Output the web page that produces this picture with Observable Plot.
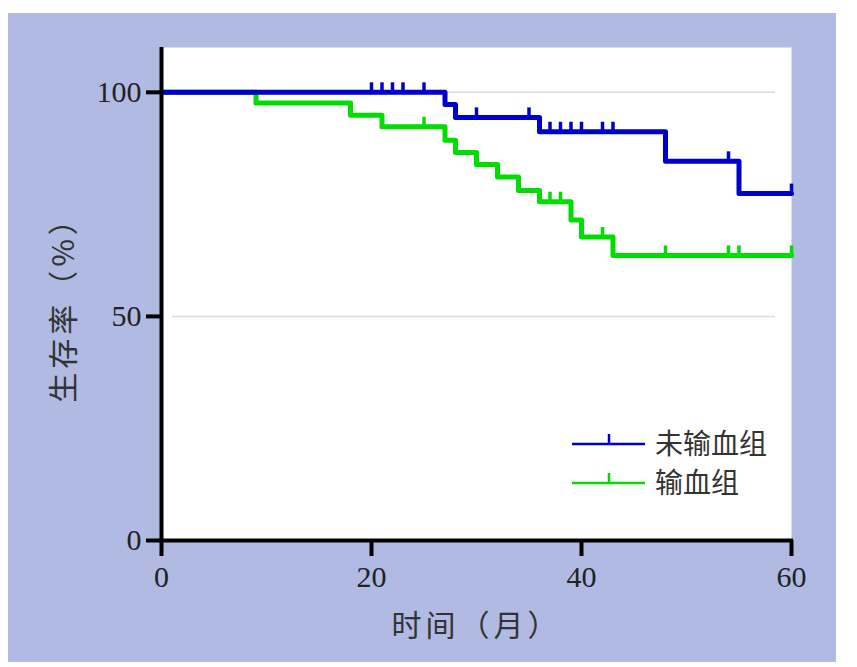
<!DOCTYPE html>
<html><head><meta charset="utf-8">
<script src="https://cdn.jsdelivr.net/npm/d3@7"></script>
<script src="https://cdn.jsdelivr.net/npm/@observablehq/plot@0.6"></script>
<style>
html,body{margin:0;padding:0;background:#fff;}
#wrap{position:absolute;left:8px;top:13px;width:828px;height:649px;background:#b1bae3;}
#wrap svg.overlay{position:absolute;left:0;top:0;pointer-events:none;}
svg text{text-spacing-trim: space-all;}
</style></head><body>
<div id="wrap"></div>
<script>
// ---- data ----
const groups = ["未输血组", "输血组"];
const groupColors = ["#0000cc", "#00dd00"];
const xTicks = [0, 20, 40, 60];
const yTicks = [0, 50, 100];
const gridValues = [50, 100];
const xTitle = "时间（月）";
const yTitle = "生存率（%）";

// 未输血组 (blue) survival steps
const blueTimes = [0, 27, 28, 36, 48, 55, 60];
const blueSurv  = [100, 97.3, 94.4, 91.2, 84.6, 77.4, 77.4];
const blueCensorTimes = [20, 21, 22, 23, 25, 30, 35, 37, 38, 39, 40, 42, 43, 54, 60];
const blueCensorSurv  = [100, 100, 100, 100, 100, 94.4, 94.4, 91.2, 91.2, 91.2, 91.2, 91.2, 91.2, 84.6, 77.4];

// 输血组 (green) survival steps
const greenTimes = [0, 9, 18, 21, 27, 28, 30, 32, 34, 36, 39, 40, 43, 60];
const greenSurv  = [100, 97.6, 94.9, 92.3, 89.3, 86.6, 83.9, 81.1, 78.1, 75.6, 71.5, 67.7, 63.6, 63.6];
const greenCensorTimes = [25, 37, 38, 42, 48, 54, 55, 60];
const greenCensorSurv  = [92.3, 75.6, 75.6, 67.7, 63.6, 63.6, 63.6, 63.6];

// ---- build tables ----
const zip = (ts, ss) => ts.map((t, i) => ({t, s: ss[i]}));
const blueRows = zip(blueTimes, blueSurv);
const greenRows = zip(greenTimes, greenSurv);
const blueCens = zip(blueCensorTimes, blueCensorSurv);
const greenCens = zip(greenCensorTimes, greenCensorSurv);

const censorSymbol = {draw(ctx, size) { ctx.moveTo(0, 0); ctx.lineTo(0, -10); }};

const serif = "'Liberation Serif', 'DejaVu Serif', serif";
const cjk = "'Noto Sans CJK SC', sans-serif";

const plot = Plot.plot({
  width: 828, height: 649,
  marginLeft: 153, marginRight: 45, marginTop: 34, marginBottom: 122,
  style: {background: "transparent", overflow: "visible"},
  x: {domain: [0, 60]},
  y: {domain: [0, 110]},
  marks: [
    Plot.frame({fill: "white", stroke: "none"}),
    Plot.ruleY(gridValues, {stroke: "#dcdcdc", strokeWidth: 1.5, insetLeft: 11, insetRight: 16}),
    Plot.line(greenRows, {x: "t", y: "s", curve: "step-after", stroke: groupColors[1], strokeWidth: 5}),
    Plot.dot(greenCens, {x: "t", y: "s", symbol: censorSymbol, fill: "none", stroke: groupColors[1], strokeWidth: 3.5}),
    Plot.line(blueRows, {x: "t", y: "s", curve: "step-after", stroke: groupColors[0], strokeWidth: 5}),
    Plot.dot(blueCens, {x: "t", y: "s", symbol: censorSymbol, fill: "none", stroke: groupColors[0], strokeWidth: 3.5}),
    Plot.ruleX([0], {stroke: "#000", strokeWidth: 4, insetBottom: -2}),
    Plot.ruleY([0], {stroke: "#000", strokeWidth: 4, insetLeft: -2, insetRight: -2}),
    Plot.axisX({ticks: xTicks, tickSize: 16, tickPadding: 9, strokeWidth: 4, stroke: "#000",
      fontSize: 30, fontFamily: serif, fill: "#222", label: null, tickFormat: d => String(d)}),
    Plot.axisY({ticks: yTicks, tickSize: 15, tickPadding: 5, strokeWidth: 4, stroke: "#000",
      fontSize: 30, fontFamily: serif, fill: "#222", label: null, tickFormat: d => String(d)}),
    Plot.text([xTitle], {frameAnchor: "bottom", dy: 95, textAnchor: "middle", fontSize: 30, fontFamily: cjk, fill: "#333"}),
    Plot.text([yTitle], {frameAnchor: "left", rotate: -90, dx: -97, dy: 8, textAnchor: "middle", fontSize: 30, fontFamily: cjk, fill: "#333"})
  ]
});
const wrap = document.getElementById("wrap");
wrap.appendChild(plot);
d3.select(plot).selectAll("text")
  .filter(function() { return this.textContent === xTitle || this.textContent === yTitle; })
  .style("letter-spacing", "4px");

// ---- legend overlay ----
const ns = "http://www.w3.org/2000/svg";
const leg = document.createElementNS(ns, "svg");
leg.setAttribute("class", "overlay");
leg.setAttribute("width", 828);
leg.setAttribute("height", 649);
const rowsY = [431, 470];
groups.forEach((g, i) => {
  const y = rowsY[i];
  const line = document.createElementNS(ns, "line");
  line.setAttribute("x1", 564); line.setAttribute("x2", 637);
  line.setAttribute("y1", y); line.setAttribute("y2", y);
  line.setAttribute("stroke", groupColors[i]); line.setAttribute("stroke-width", 2.5);
  leg.appendChild(line);
  const tk = document.createElementNS(ns, "line");
  tk.setAttribute("x1", 601); tk.setAttribute("x2", 601);
  tk.setAttribute("y1", y - 10); tk.setAttribute("y2", y);
  tk.setAttribute("stroke", groupColors[i]); tk.setAttribute("stroke-width", 2.5);
  leg.appendChild(tk);
  const tx = document.createElementNS(ns, "text");
  tx.setAttribute("x", 647); tx.setAttribute("y", y);
  tx.setAttribute("dy", "0.35em");
  tx.setAttribute("font-size", 28);
  tx.setAttribute("font-family", "Noto Sans CJK SC, sans-serif");
  tx.setAttribute("fill", "#333");
  tx.textContent = g;
  leg.appendChild(tx);
});
wrap.appendChild(leg);
</script>
</body></html>
